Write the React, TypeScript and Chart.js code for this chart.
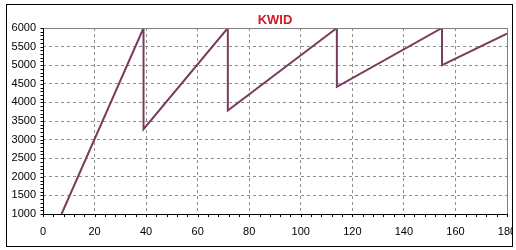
import React, { useEffect, useRef } from "react";
import { Chart, registerables } from "chart.js";

Chart.register(...registerables);

const speedKmh = [7.2, 39, 39, 71.7, 71.7, 114, 114, 154.8, 154.8, 180];
const engineRpm = [1000, 6000, 3280, 6000, 3780, 6000, 4420, 6000, 5000, 5850];
const chartTitle = "KWID";
const xMin = 0, xMax = 180, xStep = 20, xMinor = 4;
const yMin = 1000, yMax = 6000, yStep = 500, yMinor = 100;

const FONT = "Arial, 'Liberation Sans', sans-serif";

const decorPlugin = {
  id: "decor",
  beforeDraw(chart: any) {
    const ctx = chart.ctx;
    ctx.save();
    ctx.fillStyle = "#ffffff";
    ctx.fillRect(0, 0, chart.width, chart.height);
    ctx.fillStyle = "#d01c24";
    ctx.font = "bold 13px " + FONT;
    ctx.textAlign = "center";
    ctx.textBaseline = "middle";
    const ca = chart.chartArea;
    ctx.fillText(chartTitle, (ca.left + ca.right) / 2, 20.5);
    ctx.restore();
  },
  afterDatasetsDraw(chart: any) {
    const ctx = chart.ctx;
    const ca = chart.chartArea;
    const xs = chart.scales.x;
    const ys = chart.scales.y;
    ctx.save();
    ctx.strokeStyle = "#808080";
    ctx.lineWidth = 1;
    ctx.beginPath();
    const top = Math.round(ca.top) + 0.5;
    const right = Math.round(ca.right) + 0.5;
    ctx.moveTo(Math.round(ca.left), top);
    ctx.lineTo(right, top);
    ctx.lineTo(right, Math.round(ca.bottom));
    ctx.stroke();
    ctx.strokeStyle = "#000000";
    ctx.beginPath();
    const left = Math.round(ca.left) + 0.5;
    const bottom = Math.round(ca.bottom) + 0.5;
    ctx.moveTo(left, top - 0.5);
    ctx.lineTo(left, bottom);
    ctx.lineTo(right + 0.5, bottom);
    for (let v = xMin; v <= xMax + 0.001; v += xMinor) {
      const px = Math.round(xs.getPixelForValue(v)) + 0.5;
      ctx.moveTo(px, bottom);
      ctx.lineTo(px, bottom + 2.5);
    }
    for (let v = yMin; v <= yMax + 0.001; v += yMinor) {
      const py = Math.round(ys.getPixelForValue(v)) + 0.5;
      ctx.moveTo(left, py);
      ctx.lineTo(left - 3, py);
    }
    ctx.stroke();
    ctx.restore();
  },
  afterDraw(chart: any) {
    const ctx = chart.ctx;
    ctx.save();
    // clip region outside frame
    ctx.fillStyle = "#ffffff";
    ctx.fillRect(513, 0, 3, chart.height);
    ctx.strokeStyle = "#000000";
    ctx.lineWidth = 1;
    ctx.strokeRect(6.5, 4.5, 506, 242);
    ctx.restore();
  },
};

export default function App() {
  const ref = useRef<HTMLCanvasElement | null>(null);
  useEffect(() => {
    if (!ref.current) return;
    const chart = new Chart(ref.current, {
      type: "scatter",
      data: {
        datasets: [
          {
            data: speedKmh.map((x, i) => ({ x, y: engineRpm[i] })),
            showLine: true,
            borderColor: "#7a3b5e",
            backgroundColor: "#7a3b5e",
            borderWidth: 2,
            pointRadius: 0,
            fill: false,
          },
        ],
      },
      options: {
        animation: false,
        responsive: false,
        devicePixelRatio: 1,
        layout: { padding: { top: 28, right: 9, left: 0, bottom: 0 } },
        plugins: { legend: { display: false }, tooltip: { enabled: false }, title: { display: false } },
        scales: {
          x: {
            type: "linear",
            min: xMin,
            max: xMax,
            afterFit: (s: any) => { s.height = 36; s.paddingLeft = 0; s.paddingRight = 0; },
            ticks: {
              stepSize: xStep,
              color: "#000000",
              font: { family: FONT, size: 11 },
              padding: 11,
              maxRotation: 0,
              callback: (v: any) => String(v),
            },
            grid: { color: "#8c8c8c", drawTicks: false, lineWidth: 1 },
            border: { display: false, dash: [3, 3] },
          },
          y: {
            type: "linear",
            min: yMin,
            max: yMax,
            afterFit: (s: any) => { s.width = 43; s.paddingTop = 0; s.paddingBottom = 0; },
            ticks: {
              stepSize: yStep,
              color: "#000000",
              font: { family: FONT, size: 11 },
              padding: 7,
              callback: (v: any) => String(v),
            },
            grid: { color: "#8c8c8c", drawTicks: false, lineWidth: 1 },
            border: { display: false, dash: [3, 3] },
          },
        },
      },
      plugins: [decorPlugin],
    });
    return () => chart.destroy();
  }, []);
  return (
    <div style={{ position: "absolute", left: 0, top: 0, width: 516, height: 250 }}>
      <canvas ref={ref} width={516} height={250} />
    </div>
  );
}
